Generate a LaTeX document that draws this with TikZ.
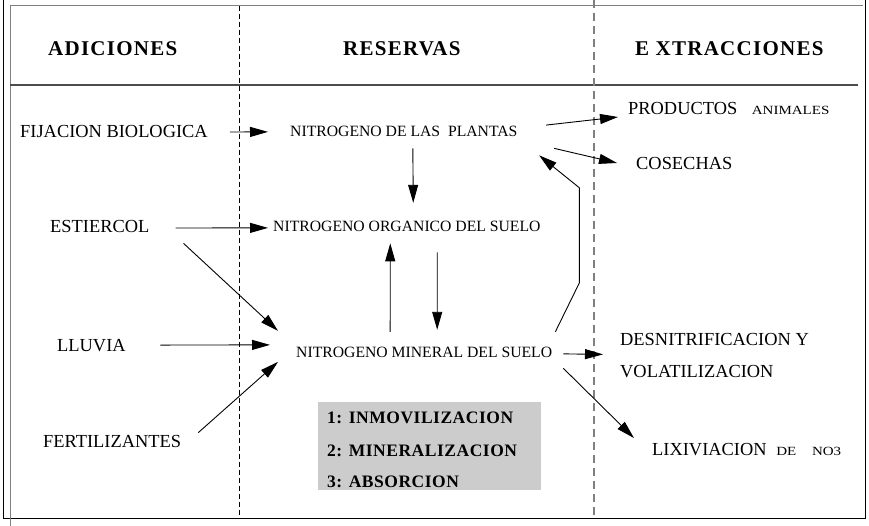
\documentclass[tikz,border=0pt]{standalone}
\usepackage{fontspec}
\setmainfont{Liberation Serif}
\newfontfamily\cabeza[LetterSpace=6]{Liberation Serif Bold}
\newfontfamily\clavefont[LetterSpace=3]{Liberation Serif Bold}
\newfontfamily\chica[FakeStretch=1.2]{Liberation Serif}
\newcommand{\peque}{\chica\fontsize{12.5}{15}\selectfont}
\usetikzlibrary{arrows.meta,calc}

\begin{document}
\begin{tikzpicture}[x=1pt,y=-1pt,
	texto/.style={inner sep=0pt,anchor=base west,font=\fontsize{18.4}{22}\selectfont},
	reserva/.style={inner sep=0pt,anchor=base west,font=\fontsize{15.7}{19}\selectfont},
	titulo/.style={inner sep=0pt,anchor=base west,font=\cabeza\fontsize{21}{25}\selectfont},
	clave/.style={inner sep=0pt,anchor=base west,font=\clavefont\fontsize{17.5}{20}\selectfont},
	flecha/.style={-{Triangle[length=18pt,width=10pt]},line width=0.9pt}]
	\useasboundingbox (0,0) rectangle (869,526);

	\draw[line width=1pt] (3,0)--(3,518)--(865,518)--(865,0);
	\draw[gray,line width=1pt] (10,526)--(10,6)--(863,6);
	\draw[black!70,line width=1.3pt] (10,85)--(858,85);
	\draw[line width=0.6pt,dash pattern=on 5pt off 3pt] (239,6)--(239,518);
	\draw[gray,line width=1.2pt,dash pattern=on 8pt off 5pt] (594,0)--(594,518);

	\node[titulo] (adiciones) at (48,56) {ADICIONES};
	\node[titulo] (reservas) at (343,56) {RESERVAS};
	\node[titulo] (extracciones) at (635,56) {E XTRACCIONES};

	\node[texto] (fijacion) at (20,138) {FIJACION BIOLOGICA};
	\node[texto] (estiercol) at (50,233) {ESTIERCOL};
	\node[texto] (lluvia) at (57,351) {LLUVIA};
	\node[texto] (fertil) at (43,447) {FERTILIZANTES};

	\node[reserva] (plantas) at (290,137) {NITROGENO DE LAS \ PLANTAS};
	\node[reserva] (organico) at (273,232) {NITROGENO ORGANICO DEL SUELO};
	\node[reserva] (mineral) at (296,357) {NITROGENO MINERAL DEL SUELO};

	\node[texto] (productos) at (628,115) {PRODUCTOS \hspace{10pt}{\peque ANIMALES}};
	\node[texto] (cosechas) at (636,170) {COSECHAS};
	\node[texto] (desnit) at (620,345) {DESNITRIFICACION Y};
	\node[texto] (volat) at (620,377) {VOLATILIZACION};
	\node[texto] (lixiv) at (652,455) {LIXIVIACION \hspace{5pt}{\peque DE \hspace{12pt}NO3}};

	\node[fill=black!20,inner sep=0pt,minimum width=223pt,minimum height=88pt,anchor=north west] (leyenda) at (318,402) {};
	\node[clave] (inmov) at ($(leyenda.north west)+(9,21)$) {1: INMOVILIZACION};
	\node[clave] (minera) at ($(leyenda.north west)+(9,54)$) {2: MINERALIZACION};
	\node[clave] (absor) at ($(leyenda.north west)+(9,85)$) {3: ABSORCION};

	\draw[flecha] ($(fijacion.east)+(22,0)$)--($(plantas.west)+(-22,0)$);
	\draw[flecha] ($(plantas.south)+(9,11)$)--($(organico.north)+(6.4,-18.6)$);
	\draw[flecha] ($(estiercol.east)+(26,1)$)--($(organico.west)+(-5,1)$);
	\draw[flecha] ($(estiercol.south east)+(34,10)$)--($(mineral.west)+(-18,-21)$);
	\draw[flecha] ($(lluvia.east)+(34.5,0)$)--($(mineral.west)+(-26,-7)$);
	\draw[flecha] ($(fertil.north east)+(17,-2)$)--($(mineral.west)+(-18,10)$);
	\draw[flecha] ($(mineral.north)+(-34,-14.6)$)--($(organico.south)+(-16.6,11)$);
	\draw[flecha] ($(organico.south)+(30.4,20)$)--($(mineral.north)+(13,-16.6)$);
	\draw[flecha] ($(mineral.north east)+(3,-14.6)$)--++(24,-49)--++(0,-95)--($(plantas.south east)+(21.5,18)$);
	\draw[flecha] ($(plantas.east)+(28.5,-6.8)$)--($(productos.west)+(-10,8)$);
	\draw[flecha] ($(plantas.south east)+(36.5,11)$)--($(cosechas.west)+(-19,-1)$);
	\draw[flecha] ($(mineral.east)+(11,2)$)--($(desnit.south west)+(-17,9)$);
	\draw[flecha] ($(mineral.south east)+(11,11)$)--($(lixiv.west)+(-18,-11)$);
\end{tikzpicture}
\end{document}
